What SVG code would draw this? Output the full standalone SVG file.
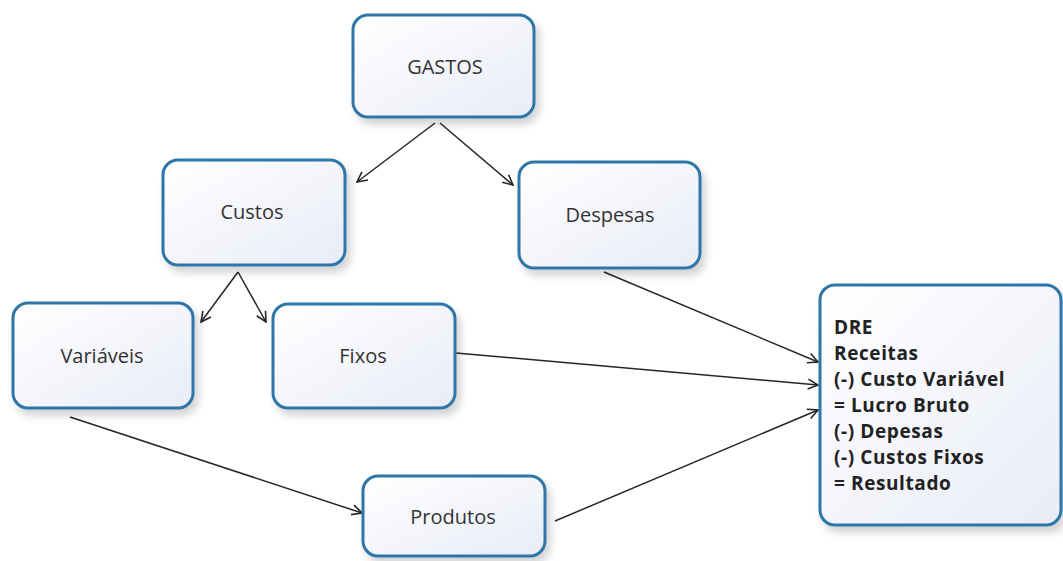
<svg xmlns="http://www.w3.org/2000/svg" width="1063" height="561" viewBox="0 0 1063 561">
<defs>
<linearGradient id="g" x1="0" y1="0" x2="1" y2="1">
<stop offset="0" stop-color="#ffffff"/>
<stop offset="1" stop-color="#e9ecf7"/>
</linearGradient>
<filter id="sh" x="-10%" y="-10%" width="120%" height="130%">
<feGaussianBlur in="SourceAlpha" stdDeviation="4"/>
<feOffset dx="4" dy="6"/>
<feComponentTransfer><feFuncA type="linear" slope="0.18"/></feComponentTransfer>
<feMerge><feMergeNode/><feMergeNode in="SourceGraphic"/></feMerge>
</filter>
<marker id="ah" viewBox="0 0 12 12" refX="11" refY="6" markerWidth="12" markerHeight="12" markerUnits="userSpaceOnUse" orient="auto">
<path d="M1,1 L11,6 L1,11" fill="none" stroke="#262626" stroke-width="1.6"/>
</marker>
</defs>
<style>
.box{fill:url(#g);stroke:#2f76a8;stroke-width:3;filter:url(#sh)}
.t{font-family:"Open Sans","Noto Sans",sans-serif;font-size:20px;fill:#333;text-anchor:middle}
.d{font-family:"Open Sans","Noto Sans",sans-serif;font-size:19px;letter-spacing:0.6px;font-weight:bold;fill:#222}
.c{stroke:#262626;stroke-width:1.5;fill:none;marker-end:url(#ah)}
</style>
<rect width="1063" height="561" fill="#fff"/>
<g id="connectors">
<line class="c" x1="435" y1="123" x2="357" y2="182"/>
<line class="c" x1="440" y1="123" x2="513" y2="185"/>
<line class="c" x1="238" y1="272" x2="201" y2="322"/>
<line class="c" x1="238" y1="272" x2="266" y2="322"/>
<line class="c" x1="604" y1="272" x2="818" y2="362"/>
<line class="c" x1="456" y1="353" x2="818" y2="385"/>
<line class="c" x1="70" y1="417" x2="362" y2="513"/>
<line class="c" x1="555" y1="521" x2="818" y2="410"/>
</g>
<g id="gastos"><rect class="box" x="353" y="15" width="181" height="102" rx="15"/><text class="t" x="445" y="74">GASTOS</text></g>
<g id="custos"><rect class="box" x="163" y="160" width="182" height="105" rx="15"/><text class="t" x="252" y="219">Custos</text></g>
<g id="despesas"><rect class="box" x="519" y="162" width="181" height="106" rx="15"/><text class="t" x="610" y="222">Despesas</text></g>
<g id="variaveis"><rect class="box" x="13" y="303" width="180" height="105" rx="15"/><text class="t" x="102" y="363">Variáveis</text></g>
<g id="fixos"><rect class="box" x="273" y="304" width="182" height="104" rx="15"/><text class="t" x="363" y="363">Fixos</text></g>
<g id="produtos"><rect class="box" x="363" y="476" width="182" height="80" rx="15"/><text class="t" x="453" y="524">Produtos</text></g>
<g id="dre"><rect class="box" x="820" y="285" width="241" height="240" rx="15"/>
<text class="d" x="834" y="334">DRE</text>
<text class="d" x="834" y="360">Receitas</text>
<text class="d" x="834" y="386">(-) Custo Variável</text>
<text class="d" x="834" y="412">= Lucro Bruto</text>
<text class="d" x="834" y="438">(-) Depesas</text>
<text class="d" x="834" y="464">(-) Custos Fixos</text>
<text class="d" x="834" y="490">= Resultado</text>
</g>
</svg>
